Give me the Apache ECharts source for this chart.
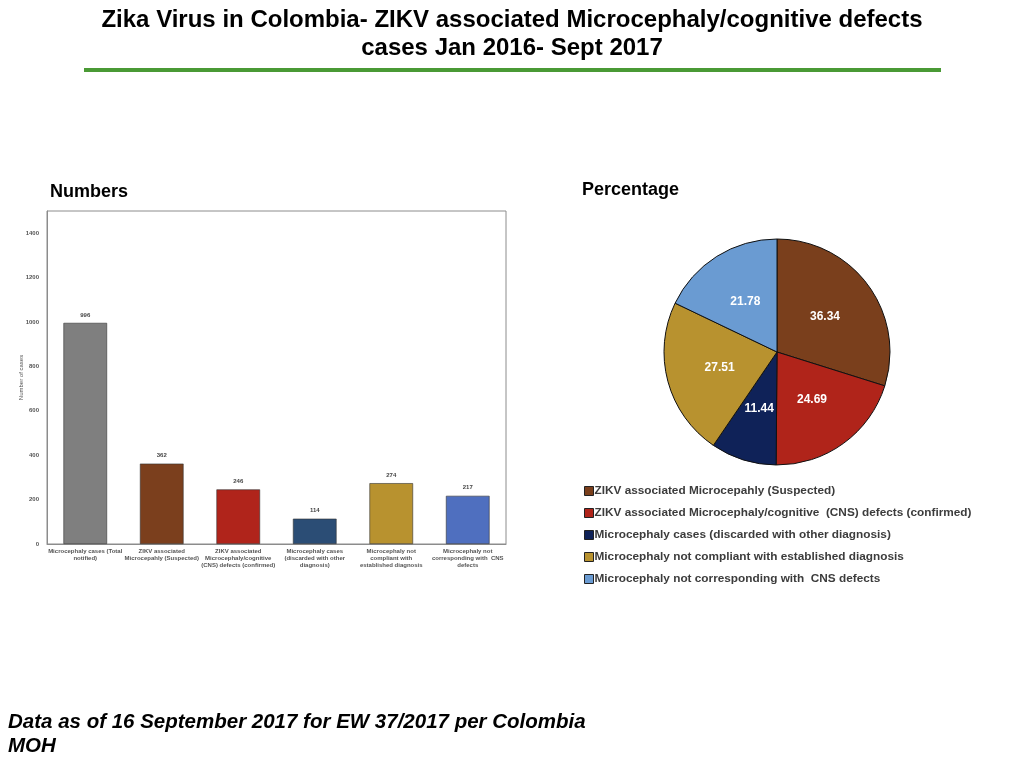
<!DOCTYPE html>
<html>
<head>
<meta charset="utf-8">
<style>
  html, body { margin: 0; padding: 0; background: #fff; }
  #main { width: 1024px; height: 768px; }
</style>
<script src="https://cdn.jsdelivr.net/npm/echarts@6/dist/echarts.min.js"></script>
</head>
<body>
<div id="main"></div>
<script>
// bar chart data
const barCategories = [
    'Microcephaly cases (Total\nnotified)',
    'ZIKV associated\nMicrocepahly (Suspected)',
    'ZIKV associated\nMicrocephaly/cognitive\n(CNS) defects (confirmed)',
    'Microcephaly cases\n(discarded with other\ndiagnosis)',
    'Microcephaly not\ncompliant with\nestablished diagnosis',
    'Microcephaly not\ncorresponding with  CNS\ndefects'
];
const barValues = [996, 362, 246, 114, 274, 217];
const barColors = ['#7f7f7f', '#7b3f1d', '#b0241b', '#2b4d75', '#b8922f', '#4f6fbf'];

// pie chart data
const pieNames = [
    'ZIKV associated Microcepahly (Suspected)',
    'ZIKV associated Microcephaly/cognitive  (CNS) defects (confirmed)',
    'Microcephaly cases (discarded with other diagnosis)',
    'Microcephaly not compliant with established diagnosis',
    'Microcephaly not corresponding with  CNS defects'
];
const pieValues = [36.34, 24.69, 11.44, 27.51, 21.78];
const pieColors = ['#7a3f1c', '#b0241a', '#0f2258', '#b8922f', '#6a9bd2'];

const titleLines = [
    'Zika Virus in Colombia- ZIKV associated Microcephaly/cognitive defects',
    'cases Jan 2016- Sept 2017'
];

function initChart() {
    const chart = echarts.init(document.getElementById('main'));

    const titleFont = 'bold 24px "Liberation Sans Narrow", "Liberation Sans", Arial, sans-serif';

    const option = {
        backgroundColor: '#fff',
        animation: false,
        graphic: [
            {
                type: 'text', x: 512, y: 20,
                style: { text: titleLines[0], font: titleFont, fill: '#000', align: 'center', verticalAlign: 'middle' }
            },
            {
                type: 'text', x: 512, y: 48,
                style: { text: titleLines[1], font: titleFont, fill: '#000', align: 'center', verticalAlign: 'middle' }
            },
            {
                type: 'rect', shape: { x: 84, y: 68, width: 857, height: 4 },
                style: { fill: '#4a9a35' }
            },
            {
                type: 'text', left: 50, top: 183,
                style: { text: 'Numbers', font: 'bold 18px "Liberation Sans", Arial, sans-serif', fill: '#000' }
            },
            {
                type: 'text', left: 582, top: 181,
                style: { text: 'Percentage', font: 'bold 18px "Liberation Sans", Arial, sans-serif', fill: '#000' }
            },
            {
                type: 'text', left: 8, top: 710,
                style: {
                    text: 'Data as of 16 September 2017 for EW 37/2017 per Colombia\nMOH',
                    font: 'italic bold 20.5px "Liberation Sans", Arial, sans-serif',
                    fill: '#000', lineHeight: 24
                }
            }
        ],
        grid: {
            left: 47, right: 518, top: 211, bottom: 224,
            show: true, borderColor: '#8c8c8c', borderWidth: 1
        },
        xAxis: {
            type: 'category',
            data: barCategories,
            axisLine: { lineStyle: { color: '#8c8c8c' } },
            axisTick: { show: false },
            axisLabel: {
                interval: 0, fontSize: 6, lineHeight: 7, color: '#555', fontWeight: 'bold',
                fontFamily: '"Liberation Sans", Arial, sans-serif', margin: 4
            }
        },
        yAxis: {
            type: 'value',
            min: 0, max: 1500, interval: 200,
            name: 'Number of cases',
            nameLocation: 'middle', nameRotate: 90, nameGap: 23,
            nameMoveOverlap: false,
            nameTextStyle: { fontSize: 6, color: '#555', fontFamily: '"Liberation Sans", Arial, sans-serif' },
            axisLine: { show: true, lineStyle: { color: '#8c8c8c' } },
            axisTick: { show: false },
            splitLine: { show: false },
            axisLabel: {
                showMaxLabel: false, fontSize: 6, color: '#555', fontWeight: 'bold', margin: 8,
                fontFamily: '"Liberation Sans", Arial, sans-serif',
                formatter: v => String(v)
            }
        },
        legend: {
            orient: 'vertical',
            left: 584, top: 485, padding: 0,
            itemWidth: 9, itemHeight: 9, itemGap: 10,
            icon: 'rect',
            data: pieNames,
            itemStyle: { borderColor: '#222', borderWidth: 1 },
            textStyle: {
                fontSize: 11.8, color: '#3c3c3c', fontWeight: 'bold', lineHeight: 12,
                fontFamily: '"Liberation Sans", Arial, sans-serif', padding: [0, 0, 0, -4]
            }
        },
        series: [
            {
                type: 'bar',
                barWidth: '57%',
                data: barValues.map((v, i) => ({ value: v, itemStyle: { color: barColors[i] } })),
                itemStyle: { borderColor: '#333', borderWidth: 0.6 },
                label: {
                    show: true, position: 'top', distance: 5, fontSize: 6, fontWeight: 'bold', color: '#444',
                    fontFamily: '"Liberation Sans", Arial, sans-serif'
                }
            },
            {
                type: 'pie',
                center: [777, 352],
                radius: 113,
                startAngle: 90,
                clockwise: true,
                data: pieNames.map((n, i) => ({ name: n, value: pieValues[i], itemStyle: { color: pieColors[i] } })),
                itemStyle: { borderColor: '#111', borderWidth: 1 },
                label: {
                    show: true, position: 'inside', formatter: '{c}',
                    fontSize: 12, fontWeight: 'bold', color: '#fff',
                    fontFamily: '"Liberation Sans", Arial, sans-serif'
                },
                labelLine: { show: false },
                emphasis: { disabled: true }
            }
        ]
    };

    chart.setOption(option);
}

window.onload = function() {
    initChart();
};
</script>
</body>
</html>
